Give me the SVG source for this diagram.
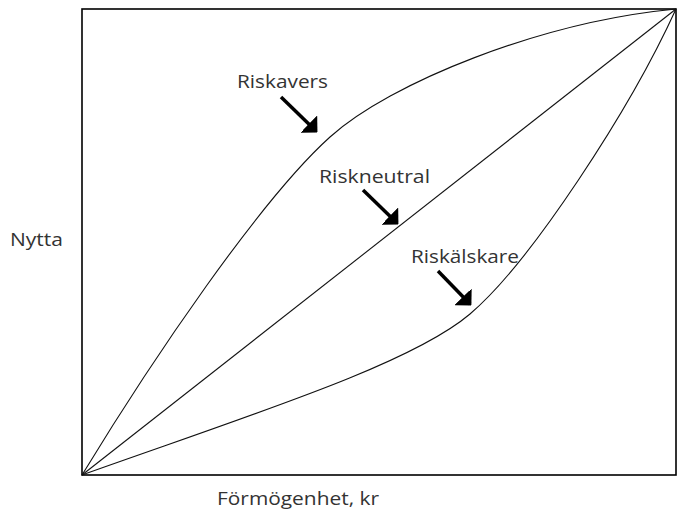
<svg xmlns="http://www.w3.org/2000/svg" width="678" height="512" viewBox="0 0 678 512">
<style>
.lbl{font-family:"Open Sans","Liberation Sans",sans-serif;font-size:18px;fill:#333}
.curve{fill:none;stroke:#111;stroke-width:1.1}
.arr{stroke:#000;stroke-width:3.5;fill:none;marker-end:url(#ah)}
</style>
<defs>
<marker id="ah" markerWidth="12" markerHeight="24" refX="10" refY="12" orient="auto" markerUnits="userSpaceOnUse">
<path d="M0,0 L12,12 L0,24 Z" fill="#000"/>
</marker>
</defs>
<rect width="678" height="512" fill="#fff"/>
<g id="frame">
<rect x="82" y="9" width="594" height="466" fill="none" stroke="#000" stroke-width="1.6"/>
</g>
<g id="connectors">
<path id="riskavers-curve" class="curve" d="M82,475 C152,360 260,200 330,137 C390,83 540,22 676,9"/>
<path id="riskneutral-line" class="curve" d="M82,475 L676,9"/>
<path id="riskalskare-curve" class="curve" d="M82,475 C250,415 410,365 470,314 C530,263 630,110 676,9"/>
<path class="arr" d="M281,97 L316,131"/>
<path class="arr" d="M363,190 L397,223"/>
<path class="arr" d="M438,271 L470,304"/>
</g>
<g id="riskavers"><text class="lbl" x="237" y="88" textLength="91" lengthAdjust="spacingAndGlyphs">Riskavers</text></g>
<g id="riskneutral"><text class="lbl" x="319" y="183" textLength="111" lengthAdjust="spacingAndGlyphs">Riskneutral</text></g>
<g id="riskalskare"><text class="lbl" x="411" y="263" textLength="108" lengthAdjust="spacingAndGlyphs">Riskälskare</text></g>
<g id="nytta"><text class="lbl" x="10" y="246" textLength="53" lengthAdjust="spacingAndGlyphs">Nytta</text></g>
<g id="formogenhet"><text class="lbl" x="217" y="505" textLength="162" lengthAdjust="spacingAndGlyphs">Förmögenhet, kr</text></g>
</svg>
